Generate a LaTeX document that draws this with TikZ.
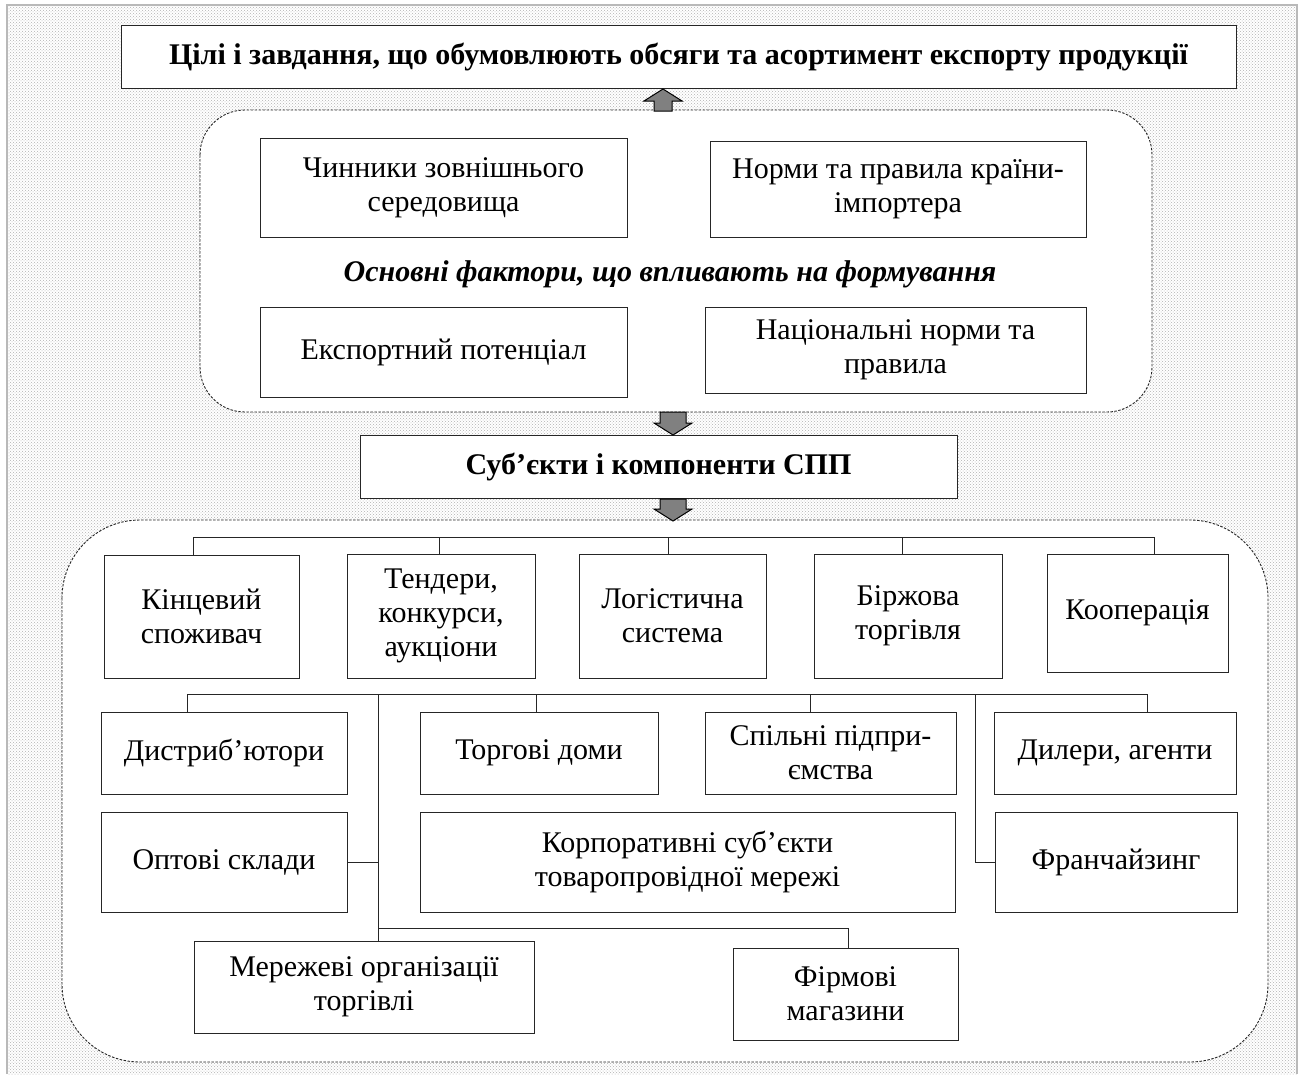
\documentclass[tikz,border=0pt]{standalone}
\usepackage{fontspec}
\setmainfont{Liberation Serif}
\usetikzlibrary{patterns}
\newcommand{\txtsize}{\fontsize{30}{34}\selectfont}
\tikzset{
  box/.style={draw=black!85, line width=1pt, fill=white, align=center, inner sep=0pt, font=\txtsize},
  container/.style={draw=black!85, line width=0.9pt, dash pattern=on 2.5pt off 1.5pt, fill=white},
  conn/.style={draw=black!85, line width=1pt},
  blockarrow/.style={draw=black, line width=1pt, fill=black!50, line join=miter}
}
\begin{document}
\begin{tikzpicture}[x=1pt,y=-1pt]
\useasboundingbox (0,0) rectangle (1306,1074);
% background
\fill[white] (0,0) rectangle (1306,1074);
\fill[pattern=crosshatch dots, pattern color=gray!60] (7,5) rectangle (1297,1074);
\draw[gray!55, line width=1.5pt] (7,1074) -- (7,5) -- (1297,5) -- (1297,1074);

% containers
\draw[container, rounded corners=45pt] (200,110) rectangle (1152,412);
\draw[container, rounded corners=78pt] (62,520) rectangle (1268,1062);

% top
\node[box, minimum width=1115, minimum height=63, font=\txtsize\bfseries] (top) at (678.5,56.5)
  {Цілі і завдання, що обумовлюють обсяги та асортимент експорту продукції};

% factors
\node[box, minimum width=367, minimum height=99] (f1) at (443.5,187.5) {Чинники зовнішнього\\середовища};
\node[box, minimum width=376, minimum height=96] (f2) at (898,189) {Норми та правила країни-\\імпортера};
\node[font=\txtsize\bfseries\itshape, inner sep=0pt] (lab) at (670,274) {Основні фактори, що впливають на формування};
\node[box, minimum width=367, minimum height=90] (f3) at (443.5,352) {Експортний потенціал};
\node[box, minimum width=381, minimum height=86] (f4) at (895.5,350) {Національні норми та\\правила};

% SPP
\node[box, minimum width=597, minimum height=63, font=\txtsize\bfseries] (spp) at (658.5,466.5) {Суб’єкти і компоненти СПП};

% arrows
\coordinate (ua) at (663,89);
\draw[blockarrow] (ua) -- ++(19,12) -- ++(-10,0) -- ++(0,10) -- ++(-18,0) -- ++(0,-10) -- ++(-10,0) -- cycle;
\coordinate (da1) at (673,435);
\draw[blockarrow] (da1) -- ++(19,-12) -- ++(-6,0) -- ++(0,-11) -- ++(-26,0) -- ++(0,11) -- ++(-6,0) -- cycle;
\coordinate (da2) at (673,521);
\draw[blockarrow] (da2) -- ++(19,-12) -- ++(-6,0) -- ++(0,-10) -- ++(-26,0) -- ++(0,10) -- ++(-6,0) -- cycle;

% row 1
\node[box, minimum width=195, minimum height=123] (k1) at (201.5,616.5) {Кінцевий\\споживач};
\node[box, minimum width=188, minimum height=124] (k2) at (441,616) {Тендери,\\конкурси,\\аукціони};
\node[box, minimum width=187, minimum height=124] (k3) at (672.5,616) {Логістична\\система};
\node[box, minimum width=188, minimum height=124] (k4) at (908,616) {Біржова\\торгівля};
\node[box, minimum width=181, minimum height=118] (k5) at (1137.5,613) {Кооперація};

\coordinate (b1) at (193,537);
\coordinate (b2) at (439,537);
\coordinate (b3) at (668,537);
\coordinate (b4) at (902,537);
\coordinate (b5) at (1154,537);
\draw[conn] (b1 |- k1.north) -- (b1) -- (b5) -- (b5 |- k5.north);
\draw[conn] (b2) -- (b2 |- k2.north);
\draw[conn] (b3) -- (b3 |- k3.north);
\draw[conn] (b4) -- (b4 |- k4.north);

% row 2
\node[box, minimum width=246, minimum height=82] (d1) at (224,753) {Дистриб’ютори};
\node[box, minimum width=238, minimum height=82] (d2) at (539,753) {Торгові доми};
\node[box, minimum width=251, minimum height=82] (d3) at (830.5,753) {Спільні підпри-\\ємства};
\node[box, minimum width=242, minimum height=82] (d4) at (1115,753) {Дилери, агенти};

% row 3
\node[box, minimum width=246, minimum height=100] (o1) at (224,862) {Оптові склади};
\node[box, minimum width=535, minimum height=100] (o2) at (687.5,862) {Корпоративні суб’єкти\\товаропровідної мережі};
\node[box, minimum width=242, minimum height=100] (o3) at (1116,862) {Франчайзинг};

% row 4
\node[box, minimum width=340, minimum height=92] (m1) at (364,987) {Мережеві організації\\торгівлі};
\node[box, minimum width=225, minimum height=92] (m2) at (845.5,994) {Фірмові\\магазини};

% row 2 connectors
\coordinate (c1) at (187,694);
\coordinate (tr) at (378,694);
\coordinate (c2) at (536,694);
\coordinate (c3) at (810,694);
\coordinate (tr2) at (975,694);
\coordinate (c4) at (1147,694);
\draw[conn] (c1 |- d1.north) -- (c1) -- (c4) -- (c4 |- d4.north);
\draw[conn] (c2) -- (c2 |- d2.north);
\draw[conn] (c3) -- (c3 |- d3.north);
\draw[conn] (tr) -- (tr |- m1.north);
\draw[conn] (o1.east) -- (o1.east -| tr);
\coordinate (fj) at (848,928);
\draw[conn] (fj -| tr) -- (fj) -- (fj |- m2.north);
\draw[conn] (tr2) |- (o3.west);
\end{tikzpicture}
\end{document}
